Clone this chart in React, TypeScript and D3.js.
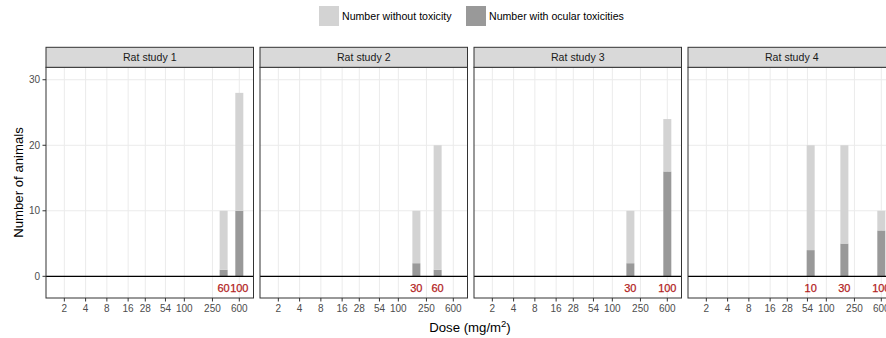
import React from "react";
import * as d3 from "d3";

// ---- data ----
const studies = ["Rat study 1", "Rat study 2", "Rat study 3", "Rat study 4"];
const studyOfGroup = [0, 0, 1, 1, 2, 2, 3, 3, 3];
const doseMgM2 = [360, 600, 180, 360, 180, 600, 60, 180, 600];
const doseMgKgLabel = ["60", "100", "30", "60", "30", "100", "10", "30", "100"];
const withOcularTox = [1, 10, 2, 1, 2, 16, 4, 5, 7];
const withoutTox = [9, 18, 8, 19, 8, 8, 16, 15, 3];
const xTicks = [2, 4, 8, 16, 28, 54, 100, 250, 600];
const yTicks = [0, 10, 20, 30];
const seriesKeys = ["with", "without"];
const seriesNames = ["Number without toxicity", "Number with ocular toxicities"];

const W = 886;
const H = 338;
const panelLeft0 = 46;
const panelW = 207.5;
const panelStep = 214;
const stripTop = 47.3;
const stripBottom = 67.3;
const panelBottom = 298;

const FONT = "'Liberation Sans', Arial, Helvetica, sans-serif";
const LIGHT = "#D3D3D3";
const DARK = "#999999";
const RED = "#B22222";

export default function App() {
  const x = d3.scaleLog().domain([1.1, 953]).range([0, panelW]);
  const y = d3.scaleLinear().domain([-3.31, 31.9]).range([panelBottom, stripBottom]);

  const table = doseMgM2.map((d, i) => ({
    study: studyOfGroup[i],
    dose: d,
    label: doseMgKgLabel[i],
    with: withOcularTox[i],
    without: withoutTox[i],
  }));
  const stacked = d3.stack<any>().keys(seriesKeys)(table);
  const colorOf = (k: string) => (k === "with" ? DARK : LIGHT);
  const barW = 8;

  return (
    <svg
      width={W}
      height={H}
      style={{ position: "absolute", left: 0, top: 0, background: "#fff" }}
      fontFamily={FONT}
    >
      <rect x={0} y={0} width={W} height={H} fill="#fff" />
      {/* legend */}
      <g>
        <rect x={319} y={6} width={20} height={20} fill={LIGHT} />
        <text x={342} y={16} dy="0.35em" fontSize={10.6} fill="#000">
          {seriesNames[0]}
        </text>
        <rect x={466} y={6} width={20} height={20} fill={DARK} />
        <text x={489} y={16} dy="0.35em" fontSize={10.6} fill="#000">
          {seriesNames[1]}
        </text>
      </g>

      {studies.map((s, si) => {
        const px = panelLeft0 + si * panelStep;
        return (
          <g key={s} transform={`translate(${px},0)`}>
            {/* panel background */}
            <rect x={0} y={stripBottom} width={panelW} height={panelBottom - stripBottom} fill="#fff" />
            {/* grid */}
            {yTicks.map((t) => (
              <line key={"gy" + t} x1={0} x2={panelW} y1={y(t)} y2={y(t)} stroke="#EBEBEB" strokeWidth={1} />
            ))}
            {xTicks.map((t) => (
              <line key={"gx" + t} x1={x(t)} x2={x(t)} y1={stripBottom} y2={panelBottom} stroke="#EBEBEB" strokeWidth={1} />
            ))}
            {/* bars */}
            {stacked.map((layer) =>
              layer.map((seg, i) =>
                table[i].study === si ? (
                  <rect
                    key={layer.key + i}
                    x={x(table[i].dose) - barW / 2}
                    y={y(seg[1])}
                    width={barW}
                    height={y(seg[0]) - y(seg[1])}
                    fill={colorOf(layer.key)}
                  />
                ) : null
              )
            )}
            {/* zero line */}
            <line x1={0} x2={panelW} y1={y(0)} y2={y(0)} stroke="#000" strokeWidth={1.2} />
            {/* dose labels mg/kg */}
            {table.map((d, i) =>
              d.study === si ? (
                <text
                  key={"lab" + i}
                  x={x(d.dose)}
                  y={y(-1.8)}
                  dy="0.35em"
                  textAnchor="middle"
                  fontSize={11}
                  fill={RED}
                  stroke={RED}
                  strokeWidth={0.25}
                >
                  {d.label}
                </text>
              ) : null
            )}
            {/* panel border */}
            <rect
              x={0}
              y={stripBottom}
              width={panelW}
              height={panelBottom - stripBottom}
              fill="none"
              stroke="#333333"
              strokeWidth={1}
            />
            {/* strip */}
            <rect
              x={0}
              y={stripTop}
              width={panelW}
              height={stripBottom - stripTop}
              fill="#D9D9D9"
              stroke="#333333"
              strokeWidth={1}
            />
            <text
              x={panelW / 2}
              y={(stripTop + stripBottom) / 2}
              dy="0.35em"
              textAnchor="middle"
              fontSize={10.6}
              fill="#1A1A1A"
            >
              {s}
            </text>
            {/* x axis ticks */}
            {xTicks.map((t) => (
              <g key={"xt" + t}>
                <line x1={x(t)} x2={x(t)} y1={panelBottom} y2={panelBottom + 3.5} stroke="#333333" strokeWidth={1} />
                <text x={x(t)} y={312} textAnchor="middle" fontSize={10} fill="#4D4D4D">
                  {t}
                </text>
              </g>
            ))}
            {/* y axis on first panel */}
            {si === 0 &&
              yTicks.map((t) => (
                <g key={"yt" + t}>
                  <line x1={-3.5} x2={0} y1={y(t)} y2={y(t)} stroke="#333333" strokeWidth={1} />
                  <text x={-6} y={y(t)} dy="0.35em" textAnchor="end" fontSize={10} fill="#4D4D4D">
                    {t}
                  </text>
                </g>
              ))}
          </g>
        );
      })}

      {/* axis titles */}
      <text x={470} y={331.5} textAnchor="middle" fontSize={13.2} fill="#000">
        Dose (mg/m<tspan dy={-5} fontSize={9.5}>2</tspan>
        <tspan dy={5}>)</tspan>
      </text>
      <text
        transform={`translate(23,182.5) rotate(-90)`}
        textAnchor="middle"
        fontSize={13.2}
        fill="#000"
      >
        Number of animals
      </text>
    </svg>
  );
}
